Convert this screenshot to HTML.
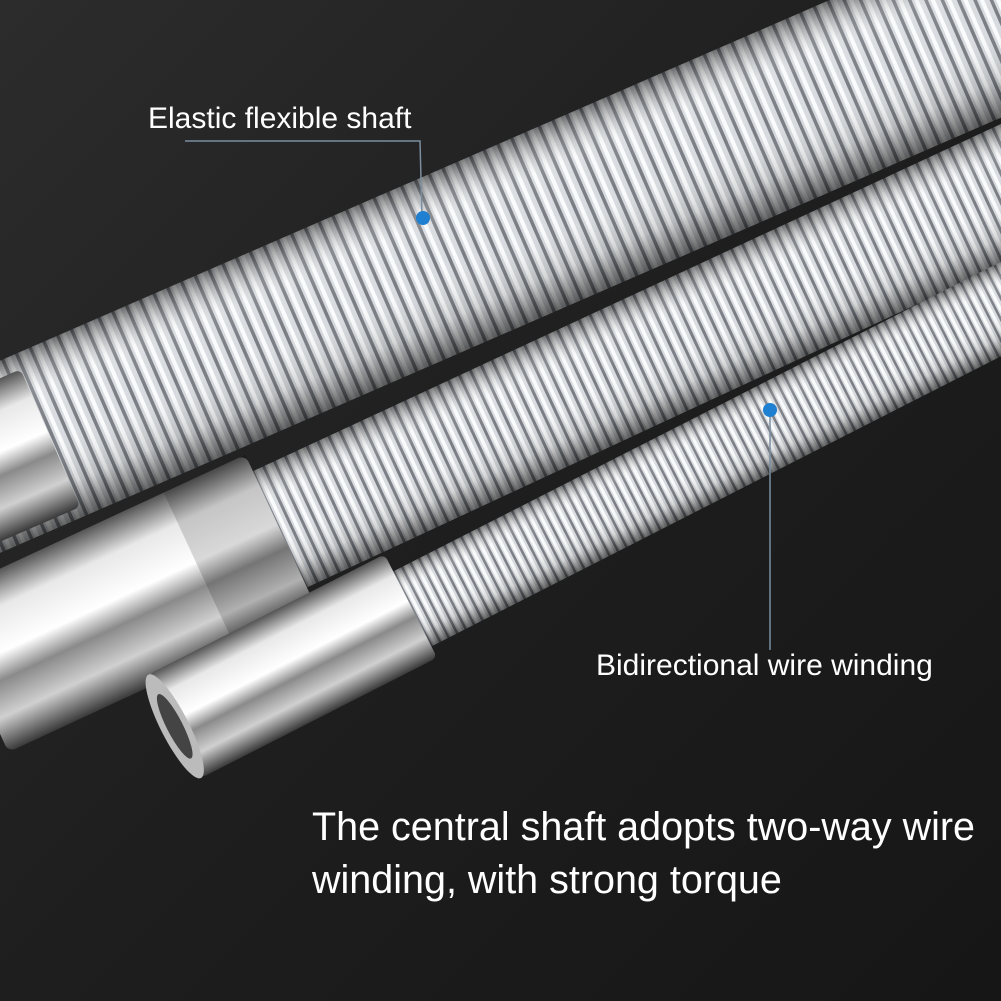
<!DOCTYPE html>
<html><head><meta charset="utf-8"><style>
html,body{margin:0;padding:0;background:#222;}
svg{display:block}
text{font-family:"Liberation Sans",sans-serif;fill:#fff}
</style></head><body>
<svg width="1001" height="1001" viewBox="0 0 1001 1001" xmlns="http://www.w3.org/2000/svg">
<defs>
<linearGradient id="bg" x1="0" y1="0" x2="1" y2="1">
<stop offset="0" stop-color="#2c2c2c"/><stop offset="0.5" stop-color="#1e1e1e"/><stop offset="1" stop-color="#161616"/>
</linearGradient>
<pattern id="c1" width="15" height="10" patternUnits="userSpaceOnUse">
<rect width="15" height="10" fill="#d8dbdf"/><rect x="0" width="3.5" height="10" fill="#7a7e84"/><rect x="6" width="4" height="10" fill="#fafbfc"/>
</pattern>
<pattern id="c2" width="12" height="10" patternUnits="userSpaceOnUse">
<rect width="12" height="10" fill="#d8dbdf"/><rect x="0" width="3" height="10" fill="#7a7e84"/><rect x="5" width="3.5" height="10" fill="#fafbfc"/>
</pattern>
<pattern id="c3" width="9.5" height="10" patternUnits="userSpaceOnUse">
<rect width="9.5" height="10" fill="#d8dbdf"/><rect x="0" width="2.5" height="10" fill="#7a7e84"/><rect x="4" width="3" height="10" fill="#fafbfc"/>
</pattern>
<linearGradient id="sh" x1="0" y1="0" x2="0" y2="1">
<stop offset="0" stop-color="#000" stop-opacity="0.5"/>
<stop offset="0.25" stop-color="#fff" stop-opacity="0.1"/>
<stop offset="0.5" stop-color="#fff" stop-opacity="0"/>
<stop offset="0.8" stop-color="#000" stop-opacity="0.15"/>
<stop offset="1" stop-color="#000" stop-opacity="0.6"/>
</linearGradient>
<linearGradient id="met" x1="0" y1="0" x2="0" y2="1">
<stop offset="0" stop-color="#555"/><stop offset="0.2" stop-color="#e8e8e8"/>
<stop offset="0.45" stop-color="#fff"/><stop offset="0.6" stop-color="#8a8a8a"/>
<stop offset="0.8" stop-color="#d0d0d0"/><stop offset="1" stop-color="#3a3a3a"/>
</linearGradient>
</defs>
<rect width="1001" height="1001" fill="url(#bg)"/>

<g transform="translate(50,435) rotate(-23.5)">
<rect x="-100" y="-88" width="1150" height="176" fill="url(#c1)"/>
<rect x="-100" y="-88" width="1150" height="176" fill="url(#sh)"/>
</g>
<g transform="translate(0,460) rotate(-23.5)">
<rect x="-120" y="-75" width="175" height="150" rx="6" fill="url(#met)"/>
</g>

<g transform="translate(300,520) rotate(-24.9)">
<rect x="-30" y="-64" width="850" height="128" fill="url(#c2)"/>
<rect x="-30" y="-64" width="850" height="128" fill="url(#sh)"/>
</g>
<g transform="translate(145,595) rotate(-24.9)">
<rect x="-190" y="-85" width="340" height="170" rx="8" fill="url(#met)"/>
<rect x="60" y="-85" width="90" height="170" fill="#000" opacity="0.15"/>
</g>

<g transform="translate(420,605) rotate(-27)">
<rect x="-20" y="-42" width="700" height="84" fill="url(#c3)"/>
<rect x="-20" y="-42" width="700" height="84" fill="url(#sh)"/>
</g>
<g transform="translate(295,665) rotate(-27)">
<rect x="-135" y="-58" width="265" height="116" rx="6" fill="url(#met)"/>
<ellipse cx="-135" cy="0" rx="14" ry="58" fill="#bbb"/>
<ellipse cx="-135" cy="0" rx="8" ry="36" fill="#444"/>
</g>

<polyline points="185,141 420,141 422,218" fill="none" stroke="#7a8ea0" stroke-width="1.5"/>
<circle cx="423" cy="218" r="7" fill="#1f7fd0"/>
<polyline points="770,410 770,650" fill="none" stroke="#7a8ea0" stroke-width="1.5"/>
<circle cx="770" cy="410" r="7" fill="#1f7fd0"/>

<text x="148" y="128" font-size="30">Elastic flexible shaft</text>
<text x="596" y="675" font-size="30">Bidirectional wire winding</text>
<text x="312" y="840" font-size="39.5">The central shaft adopts two-way wire</text>
<text x="312" y="893" font-size="39.5">winding, with strong torque</text>
</svg>
</body></html>
